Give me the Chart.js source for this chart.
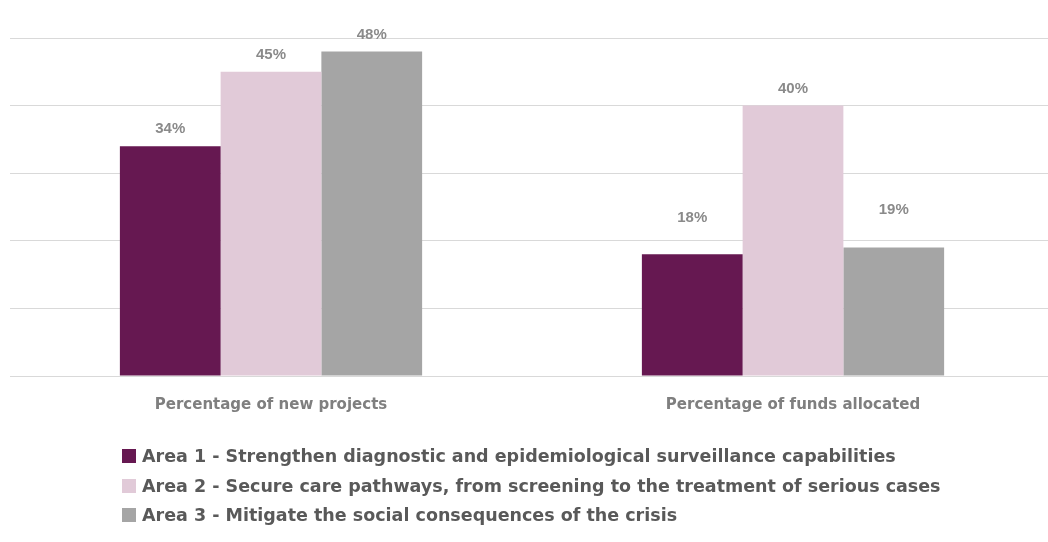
<!DOCTYPE html>
<html>
<head>
<meta charset="utf-8">
<script src="https://cdn.jsdelivr.net/npm/chart.js@4/dist/chart.umd.min.js"></script>
<style>
  body { margin: 0; background: #fff; }
  #wrap { position: relative; width: 1048px; height: 542px; overflow: hidden; }
  #box { position: absolute; left: 0; top: 0; width: 1054px; height: 448px; }
  #legend { position: absolute; left: 122px; top: 443px; font-family: "DejaVu Sans", sans-serif; font-weight: bold; font-size: 17.5px; color: #595959; }
  #legend div { height: 29.5px; line-height: 26px; white-space: nowrap; }
  #legend span { display: inline-block; width: 14px; height: 14px; margin-right: 6px; vertical-align: -1px; }
</style>
</head>
<body>
<div id="wrap">
  <div id="box"><canvas id="barChart"></canvas></div>
  <div id="legend"></div>
</div>
<script>
// categories and series
const categories = ['Percentage of new projects', 'Percentage of funds allocated'];
const seriesNames = [
  'Area 1 - Strengthen diagnostic and epidemiological surveillance capabilities',
  'Area 2 - Secure care pathways, from screening to the treatment of serious cases',
  'Area 3 - Mitigate the social consequences of the crisis'
];
const area1 = [34, 18];
const area2 = [45, 40];
const area3 = [48, 19];
const colors = ['#661851', '#e1cad8', '#a5a5a5'];

// labels above the bars (the two short bars on the right have their labels raised)
const valueLabels = {
  id: 'valueLabels',
  afterDatasetsDraw(chart, args, opts) {
    const c = chart.ctx;
    c.save();
    c.font = 'bold 15px "Liberation Sans", Arial, sans-serif';
    c.fillStyle = '#8a8a8a';
    c.textAlign = 'center';
    c.textBaseline = 'middle';
    chart.data.datasets.forEach((ds, i) => {
      chart.getDatasetMeta(i).data.forEach((bar, j) => {
        const lift = (opts.raised[i + '-' + j]) || 17;
        c.fillText(ds.data[j] + '%', bar.x, bar.y - lift);
      });
    });
    c.restore();
  }
};

const ctx = document.getElementById('barChart').getContext('2d');
const chart = new Chart(ctx, {
  type: 'bar',
  data: {
    labels: categories,
    datasets: [
      { label: seriesNames[0], data: area1, backgroundColor: colors[0] },
      { label: seriesNames[1], data: area2, backgroundColor: colors[1] },
      { label: seriesNames[2], data: area3, backgroundColor: colors[2] }
    ]
  },
  options: {
    responsive: true,
    maintainAspectRatio: false,
    animation: false,
    layout: { padding: { left: 10, right: 0, top: 38, bottom: 14 } },
    datasets: { bar: { categoryPercentage: 0.579, barPercentage: 1.0 } },
    plugins: {
      legend: { display: false },
      tooltip: { enabled: false },
      valueLabels: { raised: { '0-1': 36, '2-1': 38 } }
    },
    scales: {
      x: {
        grid: { display: false, drawTicks: false },
        border: { color: '#d9d9d9' },
        ticks: {
          padding: 20,
          color: '#7f7f7f',
          font: { family: '"DejaVu Sans", sans-serif', size: 15, weight: 'bold' }
        }
      },
      y: {
        min: 0,
        max: 50,
        ticks: { stepSize: 10, display: false },
        grid: { color: '#d9d9d9', drawTicks: false },
        border: { display: false }
      }
    }
  },
  plugins: [valueLabels]
});

// html legend, one item per line
const legendEl = document.getElementById('legend');
seriesNames.forEach((name, i) => {
  const row = document.createElement('div');
  row.innerHTML = '<span style="background:' + colors[i] + '"></span>' + name;
  legendEl.appendChild(row);
});
</script>
</body>
</html>
